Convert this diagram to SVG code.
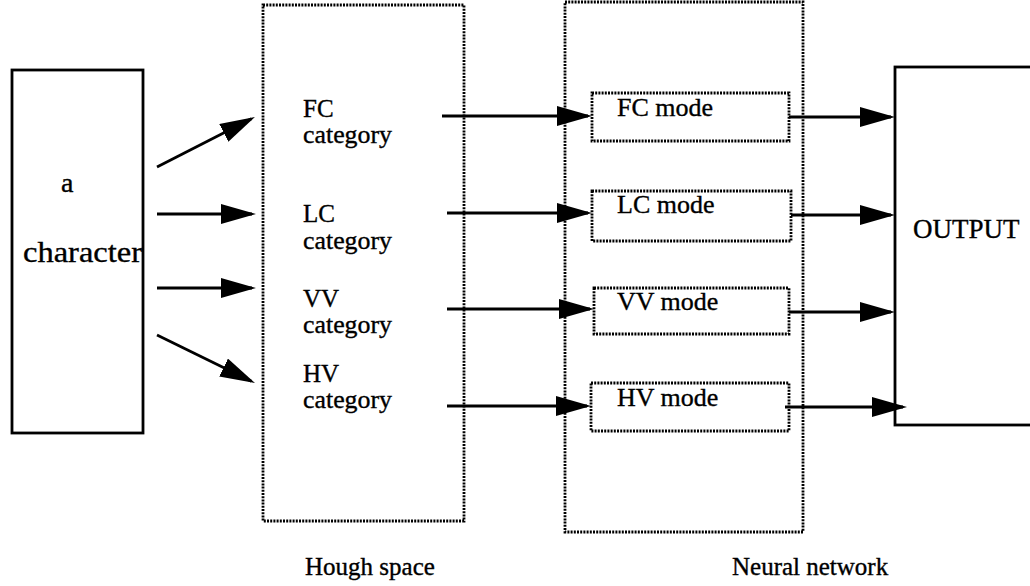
<svg xmlns="http://www.w3.org/2000/svg" width="1030" height="586" viewBox="0 0 1030 586">
<defs>
<style>
.solid{fill:#fff;stroke:#000;stroke-width:2.8}
.dot{fill:none;stroke:#000;stroke-width:2.8;stroke-dasharray:2 1.2}
.ln{fill:none;stroke:#000;stroke-width:2.8;marker-end:url(#ah)}
text{font-family:"Liberation Serif","Times New Roman",serif;fill:#000;stroke:#000;stroke-width:0.35}
.lab{font-size:25px}
.mode{font-size:26px}
</style>
<marker id="ah" markerUnits="userSpaceOnUse" markerWidth="38" markerHeight="24" refX="31" refY="10" orient="auto" viewBox="0 0 38 24">
<path d="M0,0 L35,10 L0,20 z" fill="#000"/>
</marker>
</defs>
<rect width="1030" height="586" fill="#fff"/>
<g id="character">
<rect class="solid" x="12" y="70" width="131" height="363"/>
<text x="61" y="192" font-size="28px">a</text>
<text x="23" y="262" font-size="29px" textLength="119" lengthAdjust="spacingAndGlyphs">character</text>
</g>
<g id="hough-space">
<rect class="dot" x="263" y="5" width="201" height="516"/>
<text class="lab" x="303" y="117">FC</text>
<text class="lab" x="303" y="143" textLength="89" lengthAdjust="spacingAndGlyphs">category</text>
<text class="lab" x="303" y="222">LC</text>
<text class="lab" x="303" y="249" textLength="89" lengthAdjust="spacingAndGlyphs">category</text>
<text class="lab" x="303" y="307">VV</text>
<text class="lab" x="303" y="333" textLength="89" lengthAdjust="spacingAndGlyphs">category</text>
<text class="lab" x="303" y="382">HV</text>
<text class="lab" x="303" y="408" textLength="89" lengthAdjust="spacingAndGlyphs">category</text>
<text class="lab" x="305" y="575">Hough space</text>
</g>
<g id="neural-network">
<rect class="dot" x="565" y="2" width="238" height="530"/>
<text class="lab" x="732" y="575">Neural network</text>
</g>
<g id="fc-mode">
<rect class="dot" x="592" y="93" width="197" height="48"/>
<text class="mode" x="617" y="116">FC mode</text>
</g>
<g id="lc-mode">
<rect class="dot" x="592" y="191" width="199" height="50"/>
<text class="mode" x="617" y="213">LC mode</text>
</g>
<g id="vv-mode">
<rect class="dot" x="594" y="288" width="195" height="46"/>
<text class="mode" x="617" y="310">VV mode</text>
</g>
<g id="hv-mode">
<rect class="dot" x="591" y="383" width="198" height="48"/>
<text class="mode" x="617" y="406">HV mode</text>
</g>
<g id="output">
<rect class="solid" x="895" y="67" width="145" height="358"/>
<text x="913" y="238" font-size="27px">OUTPUT</text>
</g>
<g id="connectors">
<line class="ln" x1="157" y1="167" x2="251.4" y2="118.8"/>
<line class="ln" x1="157" y1="214" x2="252" y2="214"/>
<line class="ln" x1="157" y1="288" x2="252" y2="288"/>
<line class="ln" x1="157" y1="335" x2="251.4" y2="381.2"/>
<line class="ln" x1="442" y1="116" x2="588" y2="116"/>
<line class="ln" x1="447" y1="213" x2="588" y2="213"/>
<line class="ln" x1="447" y1="309" x2="590" y2="309"/>
<line class="ln" x1="447" y1="406" x2="587" y2="406"/>
<line class="ln" x1="789" y1="117" x2="891" y2="117"/>
<line class="ln" x1="791" y1="215" x2="891" y2="215"/>
<line class="ln" x1="789" y1="312" x2="891" y2="312"/>
<line class="ln" x1="785" y1="407" x2="903" y2="407"/>
</g>
</svg>
